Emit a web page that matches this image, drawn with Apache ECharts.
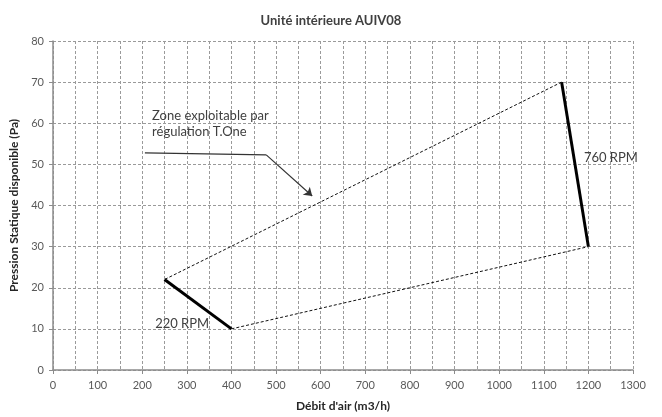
<!DOCTYPE html>
<html><head><meta charset="utf-8">
<script src="https://cdn.jsdelivr.net/npm/echarts@6/dist/echarts.min.js"></script>
<style>html,body{margin:0;padding:0;background:#fff}#c{width:662px;height:417px}</style>
</head><body><div id="c"></div>
<script>
const titleText = 'Unité intérieure AUIV08';
const xName = "Débit d'air (m3/h)";
const yName = 'Pression Statique disponible (Pa)';
// polygon vertices (débit, pression)
const rpm220 = [[250, 22], [400, 10]];
const lowerEdge = [[400, 10], [1200, 30]];
const rpm760 = [[1200, 30], [1140, 70]];
const upperEdge = [[1140, 70], [250, 22]];
// annotation
const zoneText = 'Zone exploitable par\nrégulation T.One';
const zoneTextPos = [222, 59.9];
const leader = [[206, 52.8], [478, 52.3]];
const arrowFrom = [478, 52.3];
const arrowTo = [581, 42.3];
const label220 = { text: '220 RPM', pos: [229, 11.3] };
const label760 = { text: '760 RPM', pos: [1190, 51.6] };

const font = 'Lato, "Open Sans", sans-serif';
const chart = echarts.init(document.getElementById('c'));
const textLbl = (t) => ({ show: true, position: 'inside', align: 'left', verticalAlign: 'middle',
  formatter: t, color: '#404040', fontSize: 13, fontFamily: font, lineHeight: 16 });
chart.setOption({
  animation: false,
  title: { text: titleText, left: 'center', top: 9, textStyle: { fontSize: 13, fontWeight: 'bold', color: '#404040', fontFamily: font } },
  grid: { left: 53, right: 29, top: 41, bottom: 47 },
  xAxis: {
    type: 'value', min: 0, max: 1300, interval: 100,
    name: xName, nameLocation: 'middle', nameGap: 30,
    nameTextStyle: { fontWeight: 'bold', fontSize: 12, color: '#262626', fontFamily: font },
    axisLine: { lineStyle: { color: '#8c8c8c', width: 1.5 } },
    axisTick: { show: true, length: 4, lineStyle: { color: '#8c8c8c' } },
    axisLabel: { color: '#595959', fontSize: 11, margin: 10, fontFamily: font, formatter: (v) => String(v) },
    splitLine: { show: true, lineStyle: { color: '#9a9a9a', type: [3, 2], width: 1 } },
    minorTick: { show: true, splitNumber: 2, length: 0 },
    minorSplitLine: { show: true, lineStyle: { color: '#9a9a9a', type: [3, 2], width: 1 } }
  },
  yAxis: {
    type: 'value', min: 0, max: 80, interval: 10,
    name: yName, nameLocation: 'middle', nameGap: 32,
    nameTextStyle: { fontWeight: 'bold', fontSize: 12, color: '#262626', fontFamily: font },
    axisLine: { show: true, lineStyle: { color: '#8c8c8c', width: 1.5 } },
    axisTick: { show: true, length: 4, lineStyle: { color: '#8c8c8c' } },
    axisLabel: { color: '#595959', fontSize: 11, margin: 9, fontFamily: font },
    splitLine: { show: true, lineStyle: { color: '#9a9a9a', type: [3, 2], width: 1 } }
  },
  series: [
    { type: 'line', data: lowerEdge, symbol: 'none', lineStyle: { color: '#111', width: 1, type: [3, 2] } },
    { type: 'line', data: upperEdge, symbol: 'none', lineStyle: { color: '#111', width: 1, type: [3, 2] } },
    { type: 'line', data: rpm220, symbol: 'none', lineStyle: { color: '#000', width: 3 } },
    { type: 'line', data: rpm760, symbol: 'none', lineStyle: { color: '#000', width: 3 } },
    { type: 'line', data: leader, symbol: 'none', lineStyle: { color: '#333', width: 1.2 },
      markLine: { silent: true, symbol: ['none', 'arrow'], symbolSize: 8, label: { show: false },
        lineStyle: { color: '#333', width: 1.2, type: 'solid' },
        data: [[{ coord: arrowFrom }, { coord: arrowTo }]] },
      markPoint: { symbol: 'circle', symbolSize: 0, data: [
        { coord: zoneTextPos, label: textLbl(zoneText) },
        { coord: label220.pos, label: textLbl(label220.text) },
        { coord: label760.pos, label: textLbl(label760.text) }
      ] } }
  ]
});
</script></body></html>
